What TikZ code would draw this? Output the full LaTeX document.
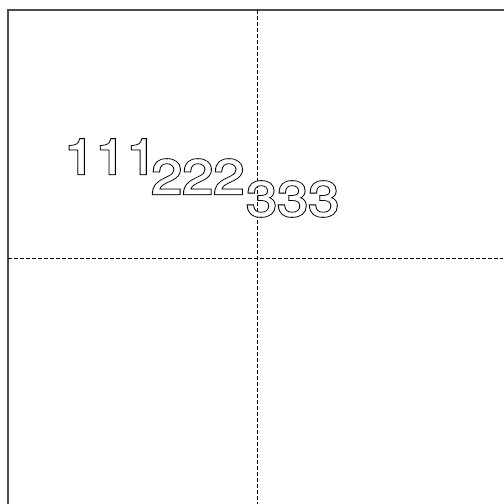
\documentclass[tikz,border=0pt]{standalone}
\usepackage{fontspec}
\usepackage{graphicx}
\newfontfamily\digfont{TeX Gyre Heros}
\newcommand{\outl}[1]{\scalebox{1.14}[1]{%
  \rlap{\special{pdf:literal direct 2 Tr 2.1 w}#1}%
  \textcolor{white}{\special{pdf:literal direct 2 Tr 0.3 w}#1}%
  \special{pdf:literal direct 0 Tr}}}
\tikzset{
  digits/.style={anchor=base west, inner sep=0pt, font=\digfont\fontsize{49}{49}\selectfont},
  guide/.style={line width=1pt, dash pattern=on 3.5pt off 2.5pt},
  frame/.style={draw=black!70, line width=1.6pt}
}
\begin{document}
\begin{tikzpicture}[x=1pt,y=-1pt]
\useasboundingbox (0,0) rectangle (504,504);
\fill[white] (0,0) rectangle (504,504);
\coordinate (tl) at (8,10);
\coordinate (br) at (504.4,508);
\draw[frame] (tl) rectangle (br);
\coordinate (vt) at (257,10);
\coordinate (vb) at (257,508);
\coordinate (hl) at (8,258);
\coordinate (hr) at (503,258);
\draw[guide] (vt) -- (vb);
\draw[guide] (hl) -- (hr);
\node[digits] (a) at (64,174) {\outl{111}};
\node[digits] (b) at (151,194) {\outl{222}};
\node[digits] (c) at (246,216) {\outl{333}};
\end{tikzpicture}
\end{document}
